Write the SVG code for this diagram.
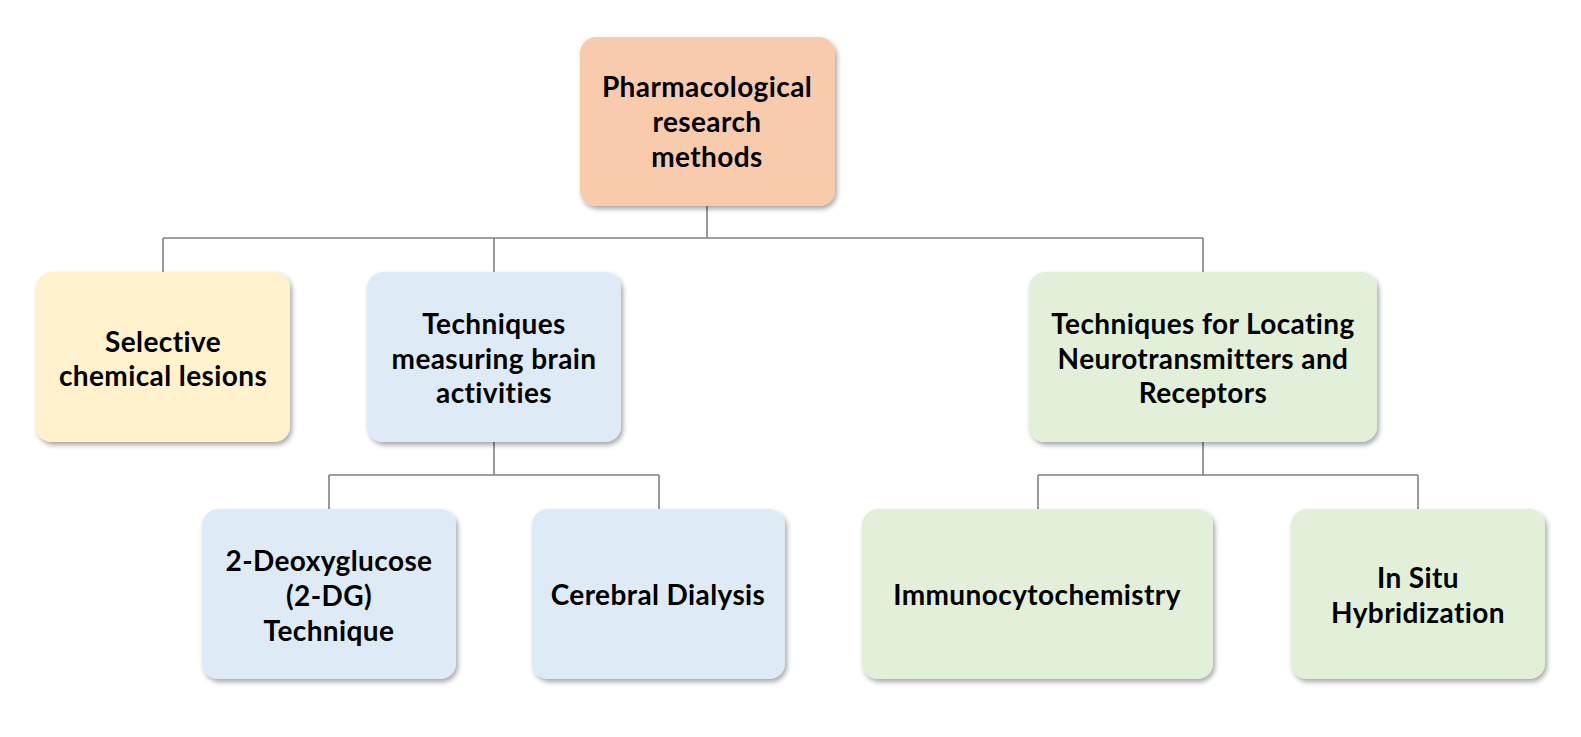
<svg xmlns="http://www.w3.org/2000/svg" width="1581" height="737" viewBox="0 0 1581 737">
<defs>
<filter id="sh" x="-10%" y="-10%" width="130%" height="130%">
<feDropShadow dx="2" dy="3" stdDeviation="2.5" flood-color="#000" flood-opacity="0.35"/>
</filter>
<style>
.box{filter:url(#sh);}
.peach{fill:#F8CBAD;}
.yellow{fill:#FFF2CC;}
.blue{fill:#DEEBF7;}
.green{fill:#E2F0D9;}
.t{font-family:Lato,"Open Sans","Liberation Sans",sans-serif;font-weight:bold;font-size:28px;letter-spacing:0.4px;fill:#000;text-anchor:middle;dominant-baseline:central;}
.c{fill:none;stroke:#808080;stroke-width:1.6;}
</style>
</defs>
<rect width="1581" height="737" fill="#fff"/>
<g id="connectors">
<path class="c" d="M707 206 V238 M163 238 H1203 M163 238 V272 M494 238 V272 M1203 238 V272"/>
<path class="c" d="M494 442 V475 M329 475 H659 M329 475 V509 M659 475 V509"/>
<path class="c" d="M1203 442 V475 M1038 475 H1418 M1038 475 V509 M1418 475 V509"/>
</g>
<g id="root">
<rect class="box peach" x="580" y="37" width="255" height="169" rx="16"/>
<text class="t" x="707" y="86">Pharmacological</text>
<text class="t" x="707" y="121">research</text>
<text class="t" x="707" y="156">methods</text>
</g>
<g id="selective">
<rect class="box yellow" x="36" y="272" width="254" height="170" rx="16"/>
<text class="t" x="163" y="341">Selective</text>
<text class="t" x="163" y="375">chemical lesions</text>
</g>
<g id="measuring">
<rect class="box blue" x="367" y="272" width="254" height="170" rx="16"/>
<text class="t" x="494" y="323">Techniques</text>
<text class="t" x="494" y="358">measuring brain</text>
<text class="t" x="494" y="392">activities</text>
</g>
<g id="locating">
<rect class="box green" x="1029" y="272" width="348" height="170" rx="16"/>
<text class="t" x="1203" y="323">Techniques for Locating</text>
<text class="t" x="1203" y="358">Neurotransmitters and</text>
<text class="t" x="1203" y="392">Receptors</text>
</g>
<g id="deoxyglucose">
<rect class="box blue" x="202" y="509" width="254" height="170" rx="16"/>
<text class="t" x="329" y="560">2-Deoxyglucose</text>
<text class="t" x="329" y="595">(2-DG)</text>
<text class="t" x="329" y="630">Technique</text>
</g>
<g id="dialysis">
<rect class="box blue" x="532" y="509" width="253" height="170" rx="16"/>
<text class="t" x="658" y="594">Cerebral Dialysis</text>
</g>
<g id="immuno">
<rect class="box green" x="862" y="509" width="351" height="170" rx="16"/>
<text class="t" x="1037" y="594">Immunocytochemistry</text>
</g>
<g id="insitu">
<rect class="box green" x="1291" y="509" width="254" height="170" rx="16"/>
<text class="t" x="1418" y="577">In Situ</text>
<text class="t" x="1418" y="612">Hybridization</text>
</g>
</svg>
